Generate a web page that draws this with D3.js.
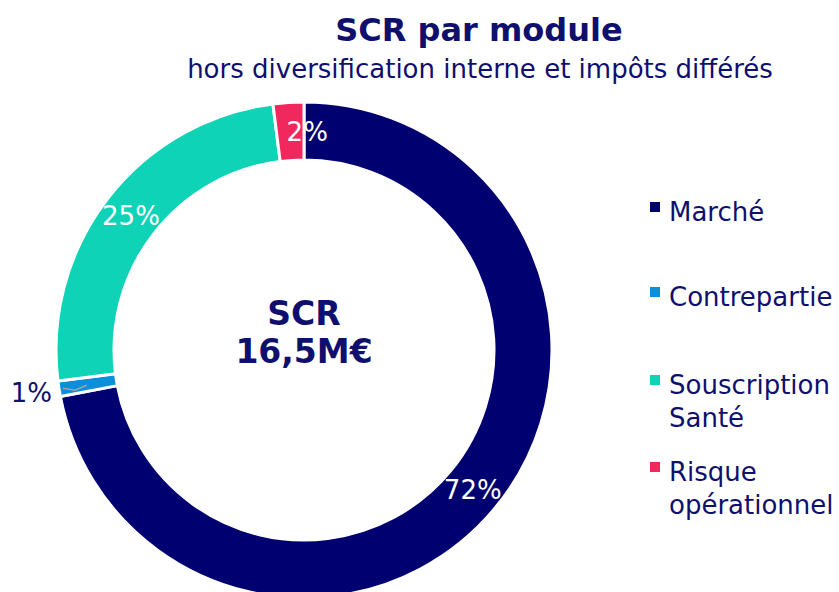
<!DOCTYPE html>
<html>
<head>
<meta charset="utf-8">
<script src="https://cdn.jsdelivr.net/npm/d3@7"></script>
<style>
  body { margin: 0; background: #fff; }
  text { font-family: "DejaVu Sans", Verdana, sans-serif; }
</style>
</head>
<body>
<div id="chart"></div>
<script>
var width = 839;
var height = 592;

var modules = ["Marché", "Contrepartie", "Souscription Santé", "Risque opérationnel"];
var legendLines = [["Marché"], ["Contrepartie"], ["Souscription", "Santé"], ["Risque", "opérationnel"]];
var shares = [72, 1, 25, 2];
var colors = ["#000070", "#0b8fdb", "#0fd3b7", "#f0285d"];
var navy = "#0f0f6e";

var data = modules.map((m, i) => ({name: m, value: shares[i], color: colors[i]}));

var svg = d3.select("#chart")
  .append("svg")
    .attr("width", width)
    .attr("height", height);

// titles
svg.append("text")
  .attr("x", 479).attr("y", 41)
  .attr("text-anchor", "middle")
  .style("font-size", "32px")
  .style("font-weight", "bold")
  .style("fill", navy)
  .text("SCR par module");
svg.append("text")
  .attr("x", 480).attr("y", 78)
  .attr("text-anchor", "middle")
  .style("font-size", "26px")
  .style("fill", navy)
  .text("hors diversification interne et impôts différés");

var cx = 304, cy = 350;
var outerR = 248, innerR = 190;

var pie = d3.pie().sort(null).value(d => d.value);
var arc = d3.arc().innerRadius(innerR).outerRadius(outerR);
var labelArc = d3.arc().innerRadius((innerR + outerR) / 2).outerRadius((innerR + outerR) / 2);

var g = svg.append("g").attr("transform", "translate(" + cx + "," + cy + ")");
var arcs = pie(data);

g.selectAll("path")
  .data(arcs)
  .enter()
  .append("path")
    .attr("d", arc)
    .style("fill", d => d.data.color)
    .attr("stroke", "white")
    .style("stroke-width", 3);

// labels
g.selectAll(".lbl")
  .data(arcs)
  .enter()
  .append("text")
    .attr("class", "lbl")
    .attr("transform", function(d){
      var c = labelArc.centroid(d);
      if (d.data.value < 2) {
        // small slice: label outside
        var a = (d.startAngle + d.endAngle) / 2;
        c = [Math.sin(a) * (outerR + 28), -Math.cos(a) * (outerR + 28)];
      } else if (d.data.value < 5) {
        c[0] += 17;
      }
      return "translate(" + c + ")";
    })
    .attr("dy", "0.35em")
    .attr("text-anchor", "middle")
    .style("font-size", "26px")
    .style("fill", d => d.data.value < 2 ? navy : "white")
    .text(d => d.data.value + "%");

// leader line for the small slice
var small = arcs.filter(d => d.data.value < 2)[0];
if (small) {
  var a = (small.startAngle + small.endAngle) / 2;
  var p0 = [Math.sin(a) * (outerR - 4), -Math.cos(a) * (outerR - 4)];
  var p1 = [Math.sin(a) * (outerR - 16), -Math.cos(a) * (outerR - 16) + 4];
  var p2 = [p1[0] + 12, p1[1] - 5];
  g.append("polyline")
    .attr("points", [p0, p1, p2].map(p => p.join(",")).join(" "))
    .attr("fill", "none")
    .attr("stroke", "#a0a0a8")
    .style("stroke-width", 1.5);
}

// centre text
g.append("text")
  .attr("y", -37)
  .attr("text-anchor", "middle")
  .attr("dy", "0.35em")
  .style("font-size", "33px")
  .style("font-weight", "bold")
  .style("fill", navy)
  .text("SCR");
g.append("text")
  .attr("y", 1)
  .attr("text-anchor", "middle")
  .attr("dy", "0.35em")
  .style("font-size", "33px")
  .style("font-weight", "bold")
  .style("fill", navy)
  .text("16,5M€");

// legend
var legendY = [212, 297, 385, 472];
var legend = svg.append("g");
var item = legend.selectAll(".legend-item")
  .data(data)
  .enter()
  .append("g")
    .attr("class", "legend-item")
    .attr("transform", (d, i) => "translate(650," + legendY[i] + ")");
item.append("rect")
  .attr("x", 0).attr("y", -10)
  .attr("width", 10).attr("height", 10)
  .style("fill", d => d.color);
item.append("text")
  .attr("x", 19).attr("y", 0)
  .style("font-size", "26px")
  .style("fill", navy)
  .selectAll("tspan")
  .data((d, i) => legendLines[i])
  .enter()
  .append("tspan")
    .attr("x", 19)
    .attr("dy", (t, j) => j === 0 ? "0.35em" : "1.28em")
    .text(t => t);
</script>
</body>
</html>
